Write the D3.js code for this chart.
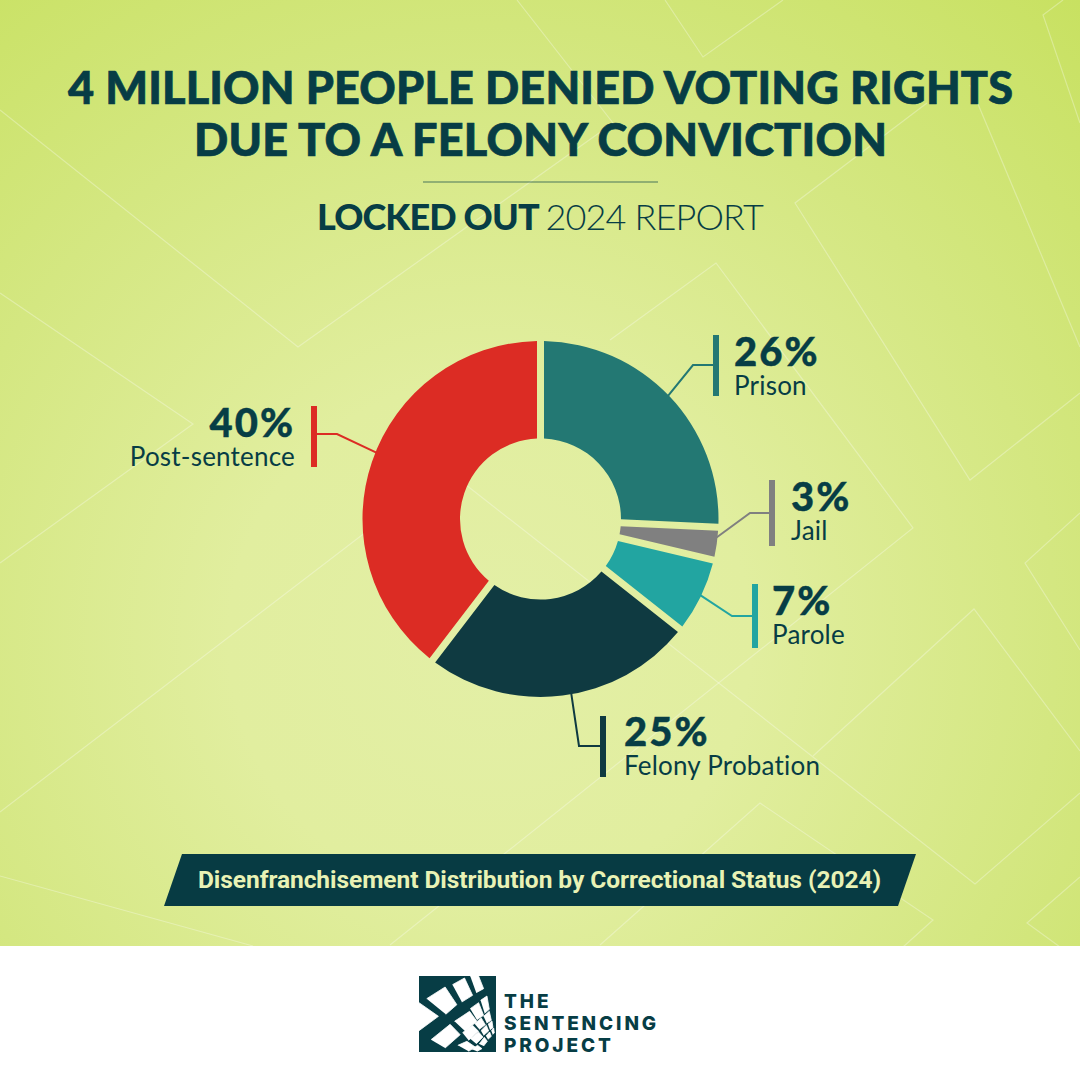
<!DOCTYPE html>
<html>
<head>
<meta charset="utf-8">
<script src="https://cdn.jsdelivr.net/npm/d3@7"></script>
<style>
html, body { margin: 0; padding: 0; background: #fff; }
svg { display: block; }
text { font-family: Lato, sans-serif; font-variant-ligatures: none; }
</style>
</head>
<body>
<svg id="chart" width="1080" height="1080"></svg>
<script>
const categories = ['Prison', 'Jail', 'Parole', 'Felony Probation', 'Post-sentence'];
const shares = [26, 3, 7, 25, 40];
const colors = ['#237873', '#808080', '#22A5A1', '#0F3A41', '#DC2C24'];

const ink = '#073D45';

// where each label's bar sits, and the elbow of the leader running to the slice
const barX = [716, 772, 755, 603, 314];
const barTop = [335, 480, 584, 716, 406];
const barBottom = [396, 546, 648, 777, 467];
const elbowX = [693, 750, 732, 579, 337];
const elbowY = [365, 513, 616, 746, 434];
const sliceAngle = [46, 96, 115.5, 170, 292];
const labelX = [734, 791, 772, 624, 295];
const pctY = [366, 511, 615, 746, 437];
const nameY = [395, 540, 644, 775, 466];

// faint background lines
const bgLines = [
  [[0, 110], [298, 347], [613, 123], [517, 0]],
  [[665, 0], [703, 57], [783, 0]],
  [[927, 103], [795, 203], [970, 480], [1080, 393]],
  [[970, 85], [1080, 347]],
  [[1063, 0], [1043, 15], [1080, 123]],
  [[610, 340], [716, 263], [913, 528], [390, 945]],
  [[0, 293], [193, 424], [0, 563]],
  [[0, 812], [447, 470], [975, 884], [1080, 793]],
  [[813, 756], [974, 609], [1080, 751]],
  [[600, 945], [760, 803], [933, 920], [903, 947]],
  [[1080, 513], [1025, 563], [1080, 650]],
  [[1080, 877], [1027, 923], [1060, 947]],
  [[0, 876], [253, 946]]
];

// logo window panes, in a 258 unit box that is scaled onto the logo square
const logoPanes = [
  [[35, 80], [90, 45], [125, 98], [92, 127]],
  [[112, 38], [148, 18], [172, 70], [140, 90]],
  [[165, 12], [190, 12], [205, 50], [183, 62]],
  [[118, 148], [163, 118], [185, 148], [150, 178]],
  [[165, 110], [190, 92], [205, 130], [185, 143]],
  [[196, 85], [215, 72], [222, 112], [208, 124]],
  [[48, 203], [105, 157], [135, 188], [90, 228]],
  [[142, 182], [172, 160], [190, 178], [160, 205]],
  [[178, 155], [198, 138], [210, 158], [192, 172]],
  [[205, 133], [222, 118], [228, 145], [214, 153]],
  [[128, 220], [155, 208], [180, 225], [160, 238]],
  [[165, 200], [190, 180], [203, 195], [183, 215]],
  [[197, 176], [213, 160], [220, 177], [205, 190]],
  [[218, 157], [230, 147], [233, 167], [224, 173]],
  [[170, 232], [187, 220], [200, 230], [185, 238]],
  [[192, 216], [207, 196], [216, 208], [205, 222]],
  [[212, 192], [223, 180], [228, 193], [218, 202]],
  [[228, 177], [235, 168], [237, 183], [232, 187]],
  [[12, 92], [70, 133], [12, 176]]
];

const svg = d3.select('#chart');
const defs = svg.append('defs');

const bgGrad = defs.append('radialGradient')
  .attr('id', 'bg')
  .attr('gradientUnits', 'userSpaceOnUse')
  .attr('cx', 490).attr('cy', 640).attr('r', 870);
bgGrad.append('stop').attr('offset', '0%').attr('stop-color', '#E3EFA6');
bgGrad.append('stop').attr('offset', '30%').attr('stop-color', '#E1EE9F');
bgGrad.append('stop').attr('offset', '65%').attr('stop-color', '#D4E781');
bgGrad.append('stop').attr('offset', '100%').attr('stop-color', '#C8E161');

svg.append('rect').attr('width', 1080).attr('height', 946).attr('fill', 'url(#bg)');

svg.append('g').selectAll('path').data(bgLines).join('path')
  .attr('d', d3.line())
  .attr('fill', 'none')
  .attr('stroke', '#fff')
  .attr('stroke-opacity', 0.3)
  .attr('stroke-width', 1.2);

// title block
function titleLine(str, x, y, len) {
  svg.append('text').attr('x', x).attr('y', y)
    .attr('textLength', len).attr('lengthAdjust', 'spacing')
    .attr('font-size', 45).attr('font-weight', 900).attr('fill', ink)
    .attr('stroke', ink).attr('stroke-width', 0.7)
    .text(str);
}
titleLine('4 MILLION PEOPLE DENIED VOTING RIGHTS', 68, 104, 945);
titleLine('DUE TO A FELONY CONVICTION', 194, 156, 693);
svg.append('line').attr('x1', 423).attr('x2', 658).attr('y1', 182).attr('y2', 182)
  .attr('stroke', ink).attr('stroke-opacity', 0.45).attr('stroke-width', 1.5);
const sub = svg.append('text').attr('x', 317).attr('y', 230)
  .attr('font-size', 36).attr('letter-spacing', -0.85).attr('fill', ink);
sub.append('tspan').attr('font-weight', 900).text('LOCKED OUT ');
sub.append('tspan').attr('font-weight', 300).text('2024 REPORT');

// donut
const cx = 540.5, cy = 519, outerR = 178, innerR = 80.5;
const pie = d3.pie().sort(null).value(d => d)(shares);
const arc = d3.arc().innerRadius(innerR).outerRadius(outerR)
  .padAngle(7 / outerR).padRadius(outerR);
svg.append('g').attr('transform', `translate(${cx},${cy})`)
  .selectAll('path').data(pie).join('path')
  .attr('d', arc)
  .attr('fill', (d, i) => colors[i]);

// leaders and labels
const rad = d => d * Math.PI / 180;
const labels = svg.append('g');
categories.forEach((name, i) => {
  const ax = cx + (outerR - 1) * Math.sin(rad(sliceAngle[i]));
  const ay = cy - (outerR - 1) * Math.cos(rad(sliceAngle[i]));
  labels.append('path')
    .attr('d', d3.line()([[ax, ay], [elbowX[i], elbowY[i]], [barX[i], elbowY[i]]]))
    .attr('fill', 'none').attr('stroke', colors[i]).attr('stroke-width', 2);
  labels.append('rect')
    .attr('x', barX[i] - 3).attr('y', barTop[i])
    .attr('width', 6).attr('height', barBottom[i] - barTop[i])
    .attr('fill', colors[i]);

  const anchor = i === 4 ? 'end' : 'start';
  labels.append('text').attr('x', labelX[i]).attr('y', pctY[i])
    .attr('text-anchor', anchor).attr('font-size', 40).attr('font-weight', 900)
    .attr('letter-spacing', 2).attr('stroke', ink).attr('stroke-width', 0.4)
    .attr('fill', ink).text(shares[i] + '%');
  labels.append('text').attr('x', labelX[i]).attr('y', nameY[i])
    .attr('text-anchor', anchor).attr('font-size', 26).attr('font-weight', 400)
    .attr('letter-spacing', 0.2).attr('fill', ink).text(name);
});

// caption band
svg.append('path')
  .attr('d', d3.line()([[182, 854], [916, 854], [898, 906], [164, 906]]))
  .attr('fill', '#073B43');
svg.append('text').attr('x', 198).attr('y', 888)
  .attr('textLength', 683).attr('lengthAdjust', 'spacing')
  .style('font-family', "'Liberation Sans Narrow', Roboto, sans-serif")
  .attr('font-size', 24.5).attr('font-weight', 700).attr('fill', '#E9F2B5')
  .text('Disenfranchisement Distribution by Correctional Status (2024)');

// logo
const logo = svg.append('g');
logo.append('rect').attr('x', 419).attr('y', 976).attr('width', 77).attr('height', 76).attr('fill', ink);
const paneX = d3.scaleLinear().domain([12, 242]).range([419, 496]);
const paneY = d3.scaleLinear().domain([12, 240]).range([976, 1052]);
logo.selectAll('path').data(logoPanes).join('path')
  .attr('d', d3.line().x(d => paneX(d[0])).y(d => paneY(d[1])))
  .attr('fill', '#fff')
  .attr('stroke', '#fff')
  .attr('stroke-width', 0.8);
['THE', 'SENTENCING', 'PROJECT'].forEach((t, i) => {
  logo.append('text').attr('x', 504).attr('y', 1008 + i * 22)
    .style('font-family', 'Inter, sans-serif')
    .attr('font-size', 19).attr('font-weight', 800).attr('letter-spacing', 2.9)
    .attr('fill', ink).text(t);
});
</script>
</body>
</html>
